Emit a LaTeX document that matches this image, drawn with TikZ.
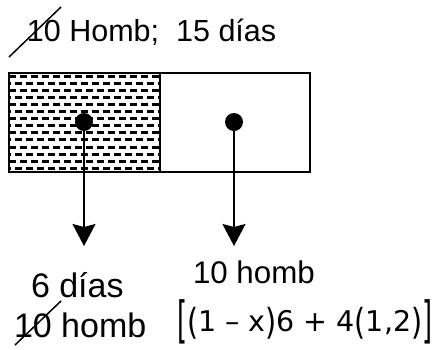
\documentclass[tikz,border=0pt]{standalone}
\usepackage{fontspec}
\usepackage{graphicx}
\setmainfont{Liberation Sans}
\newfontfamily\dv{DejaVu Sans}
\usetikzlibrary{arrows.meta}
\newcommand\bpar[1]{\raisebox{-0.13em}{\scalebox{1}[1.26]{#1}}}
\newcommand\bbrk[1]{\raisebox{-0.24em}{\scalebox{0.9}[1.75]{#1}}}
\tikzset{
  txt/.style={anchor=base west,inner sep=0pt,outer sep=0pt},
  strike/.style={line width=1.5pt},
  dotnode/.style={circle,fill=black,inner sep=0pt,minimum size=18pt},
  arr/.style={line width=2pt,-{Stealth[length=22pt,width=23pt,inset=3pt]}},
  box/.style={line width=2pt},
  hatch/.style={line width=3pt,dash pattern=on 7pt off 4pt}
}
\begin{document}
\begin{tikzpicture}[x=1pt,y=-1pt]
\useasboundingbox (0,0) rectangle (440,349);
% top text
\node[txt,font=\fontsize{30.5}{33}\selectfont] (top) at (27,41) {10 Homb;\ \ 15 días};
\coordinate (s1a) at (9,57);
\coordinate (s1b) at (61,7);
\draw[strike] (s1a) -- (s1b);
% hatching
\begin{scope}
\clip (9,73) rectangle (160,172);
\foreach \k in {0,...,13}{
  \pgfmathsetmacro{\yy}{76+7.1*\k}
  \pgfmathsetmacro{\ph}{mod(\k,2)*5.5}
  \draw[hatch,dash phase=\ph pt] (9,\yy) -- (160,\yy);
}
\end{scope}
% boxes
\draw[box] (9,73) rectangle (310,172);
\draw[box] (160,73) -- (160,172);
% dots and arrows
\node[dotnode] (d1) at (84,122) {};
\node[dotnode] (d2) at (234,122) {};
\coordinate (t1) at (84,246);
\coordinate (t2) at (234,246);
\draw[arr] (d1.center) -- (t1);
\draw[arr] (d2.center) -- (t2);
% bottom left
\node[txt,font=\fontsize{34}{36}\selectfont] (dias) at (31,297) {6 días};
\node[txt,font=\fontsize{34}{36}\selectfont] (hl) at (14,337) {10 homb};
\coordinate (s2a) at (15,345);
\coordinate (s2b) at (61,301);
\draw[strike] (s2a) -- (s2b);
% bottom right
\node[txt,font=\fontsize{31.3}{33}\selectfont] (hr) at (193,283) {10 homb};
\node[txt,font=\dv\fontsize{28.5}{30}\selectfont] (f) at (177,331)
  {\bbrk{[}\bpar{(}1 – x\bpar{)}6 + 4\bpar{(}1,2\bpar{)}\bbrk{]}};
\end{tikzpicture}
\end{document}
